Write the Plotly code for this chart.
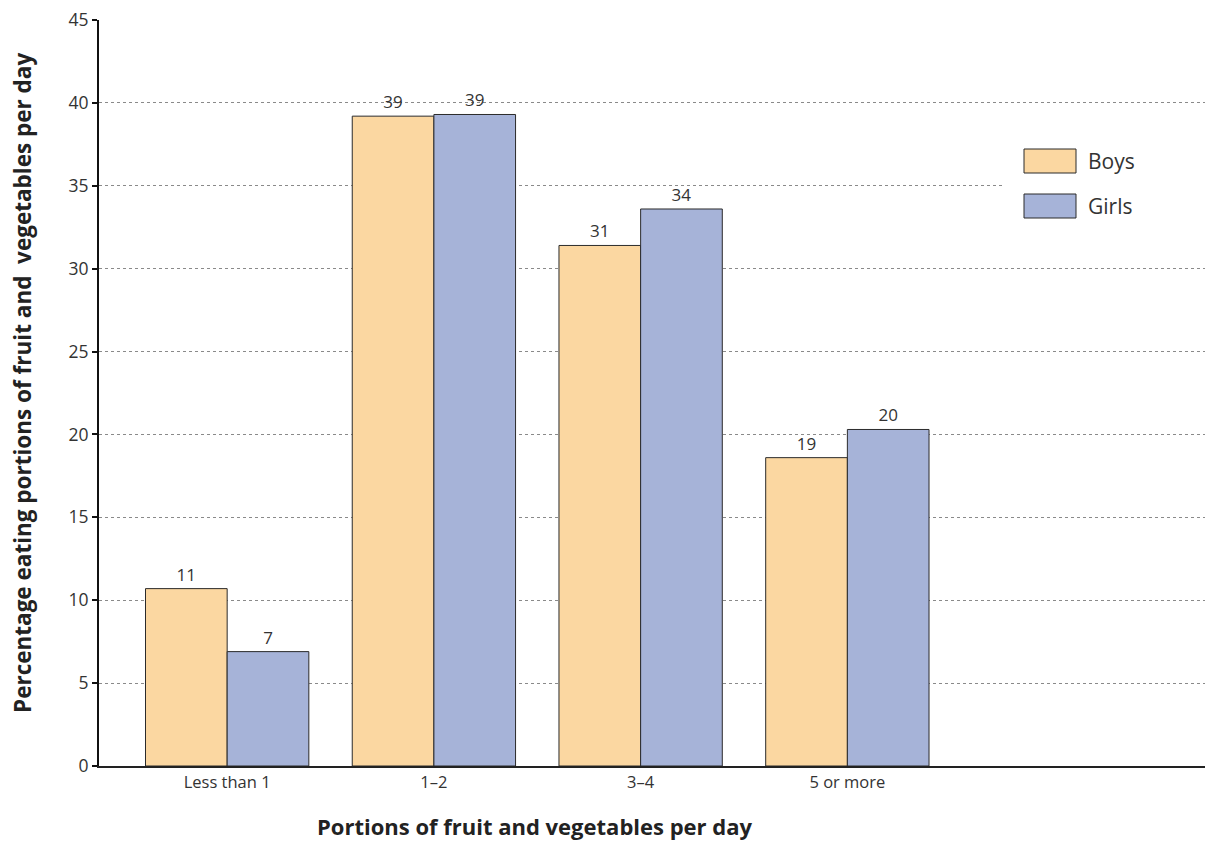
import plotly.graph_objects as go

# Portions of fruit and vegetables eaten per day, by sex (%)
categories = ["Less than 1", "1–2", "3–4", "5 or more"]
boys = [10.7, 39.2, 31.4, 18.6]
girls = [6.9, 39.3, 33.6, 20.3]
series_names = ["Boys", "Girls"]
y_ticks = [0, 5, 10, 15, 20, 25, 30, 35, 40, 45]

BOYS_COLOR = "#FBD7A1"
GIRLS_COLOR = "#A6B3D8"
OUTLINE = "#2b2b2b"
FONT = "Open Sans, Noto Sans, DejaVu Sans, sans-serif"

fig = go.Figure()
for name, vals, col in [(series_names[0], boys, BOYS_COLOR), (series_names[1], girls, GIRLS_COLOR)]:
    fig.add_trace(go.Bar(
        name=name, x=categories, y=vals,
        marker=dict(color=col, line=dict(color=OUTLINE, width=1)),
        texttemplate="%{y:.0f}", textposition="outside",
        textfont=dict(size=17, color="#333333", family=FONT),
        cliponaxis=False, showlegend=False,
    ))

fig.update_layout(
    width=1213, height=843,
    margin=dict(l=99, r=8, t=20, b=77),
    paper_bgcolor="white", plot_bgcolor="white",
    barmode="group", bargap=0.21, bargroupgap=0,
    font=dict(family=FONT, color="#333333"),
    xaxis=dict(
        type="category", range=[-0.62, 4.73],
        showline=True, linecolor="#222222", linewidth=1.5,
        ticks="", showgrid=False,
        tickfont=dict(size=16.5, color="#333333"),
    ),
    yaxis=dict(
        range=[0, 45], tickvals=y_ticks,
        showline=True, linecolor="#111111", linewidth=2,
        ticks="outside", ticklen=5, tickcolor="#111111", tickwidth=1.5,
        showgrid=True, gridcolor="#8a8a8a", griddash="dot", gridwidth=1,
        zeroline=False,
        tickfont=dict(size=17.5, color="#333333"),
    ),
)

# y-axis title
fig.add_annotation(
    text="<b>Percentage eating portions of fruit and  vegetables per day</b>",
    xref="paper", yref="paper", x=(22 - 99) / 1106, y=(766 - 383) / 746,
    xanchor="center", yanchor="middle", textangle=-90, showarrow=False,
    font=dict(size=22.5, color="#222222", family=FONT),
)

# x-axis title
fig.add_annotation(
    text="<b>Portions of fruit and vegetables per day</b>",
    xref="paper", yref="paper", x=(535 - 99) / 1106, y=(766 - 826) / 746,
    xanchor="center", yanchor="middle", showarrow=False,
    font=dict(size=22, color="#222222", family=FONT),
)

# Legend panel: white background over the gridlines, swatches and labels
fig.add_shape(type="rect", xref="paper", yref="paper", layer="above",
              x0=(1002 - 99) / 1106, x1=1.0, y0=(766 - 245) / 746, y1=(766 - 125) / 746,
              fillcolor="white", line=dict(width=0))
for i, (name, col) in enumerate(zip(series_names, [BOYS_COLOR, GIRLS_COLOR])):
    top = 149 + i * 45
    fig.add_shape(type="rect", xref="paper", yref="paper", layer="above",
                  x0=(1024 - 99) / 1106, x1=(1076 - 99) / 1106,
                  y0=(766 - top - 24) / 746, y1=(766 - top) / 746,
                  fillcolor=col, line=dict(color=OUTLINE, width=1))
    fig.add_annotation(text=name, xref="paper", yref="paper",
                       x=(1086 - 99) / 1106, y=(766 - top - 12) / 746,
                       xanchor="left", yanchor="middle", showarrow=False,
                       font=dict(size=21, color="#333333", family=FONT))

fig.write_html("out.html")
